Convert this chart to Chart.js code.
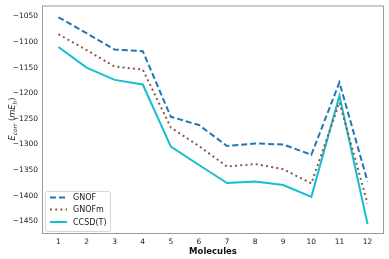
<!DOCTYPE html>
<html>
<head>
<meta charset="utf-8">
<script src="https://cdn.jsdelivr.net/npm/chart.js@4.4.1/dist/chart.umd.min.js"></script>
<style>
html,body{margin:0;padding:0;background:#fff;}
#wrap{width:389px;height:259px;position:relative;}
</style>
</head>
<body>
<div id="wrap"><canvas id="c" width="389" height="259"></canvas></div>
<script>
const molecules = [1,2,3,4,5,6,7,8,9,10,11,12];
const gnof  = [-1052,-1083,-1115,-1118,-1246,-1262,-1303,-1298,-1300,-1320,-1179,-1372];
const gnofm = [-1085,-1116,-1148,-1154,-1267,-1303,-1343,-1338,-1348,-1376,-1218,-1415];
const ccsdt = [-1110,-1150,-1174,-1183,-1304,-1340,-1375,-1372,-1379,-1402,-1205,-1455];
const yTicks = [-1450,-1400,-1350,-1300,-1250,-1200,-1150,-1100,-1050];
const seriesNames = ['GNOF','GNOFm','CCSD(T)'];

const FONT = 'DejaVu Sans';
const toPts = arr => arr.map((v,i)=>({x:molecules[i], y:v}));

const legendPlugin = {
  id:'innerLegend',
  afterDraw(chart){
    const ctx = chart.ctx;
    const x0 = 45.5, y0 = 191.5, w = 65, h = 40;
    ctx.save();
    ctx.beginPath();
    const r = 2;
    ctx.moveTo(x0+r,y0);ctx.lineTo(x0+w-r,y0);ctx.quadraticCurveTo(x0+w,y0,x0+w,y0+r);
    ctx.lineTo(x0+w,y0+h-r);ctx.quadraticCurveTo(x0+w,y0+h,x0+w-r,y0+h);
    ctx.lineTo(x0+r,y0+h);ctx.quadraticCurveTo(x0,y0+h,x0,y0+h-r);
    ctx.lineTo(x0,y0+r);ctx.quadraticCurveTo(x0,y0,x0+r,y0);
    ctx.closePath();
    ctx.fillStyle='rgba(255,255,255,0.8)';ctx.fill();
    ctx.strokeStyle='#d6d6d6';ctx.lineWidth=1;ctx.stroke();
    const ys=[197.5,209.5,222];
    chart.data.datasets.forEach((ds,i)=>{
      ctx.beginPath();
      ctx.setLineDash(ds.borderDash||[]);
      ctx.strokeStyle=ds.borderColor;ctx.lineWidth=ds.borderWidth;
      ctx.moveTo(50,ys[i]);ctx.lineTo(67,ys[i]);ctx.stroke();
      ctx.setLineDash([]);
      ctx.fillStyle='#222';ctx.font='8px "'+FONT+'"';
      ctx.textBaseline='middle';ctx.textAlign='left';
      ctx.fillText(ds.label,73,ys[i]+0.5);
    });
    ctx.restore();
  }
};

const yTitlePlugin = {
  id:'yTitle',
  afterDraw(chart){
    const ctx=chart.ctx;
    ctx.save();
    ctx.translate(12,119);
    ctx.rotate(-Math.PI/2);
    ctx.fillStyle='#222';
    ctx.textBaseline='alphabetic';
    const parts=[
      {t:'E',f:'italic 8.3px "'+FONT+'"',dy:0},
      {t:'corr',f:'italic 5.8px "'+FONT+'"',dy:1.9},
      {t:' (',f:'8.3px "'+FONT+'"',dy:0},
      {t:'mE',f:'italic 8.3px "'+FONT+'"',dy:0},
      {t:'h',f:'italic 5.8px "'+FONT+'"',dy:1.9},
      {t:')',f:'8.3px "'+FONT+'"',dy:0}
    ];
    let total=0;
    parts.forEach(p=>{ctx.font=p.f;p.w=ctx.measureText(p.t).width;total+=p.w;});
    let x=-total/2;
    parts.forEach(p=>{ctx.font=p.f;ctx.fillText(p.t,x,2.8+p.dy);x+=p.w;});
    ctx.restore();
  }
};

const frame = {
  id:'frame',
  afterDraw(chart){
    const a=chart.chartArea, ctx=chart.ctx;
    ctx.save();ctx.strokeStyle='#9a9a9a';ctx.lineWidth=1;
    ctx.strokeRect(a.left-0.5,a.top-0.5,a.right-a.left+1,a.bottom-a.top+1);
    ctx.restore();
  }
};

new Chart(document.getElementById('c'),{
  type:'line',
  data:{datasets:[
    {label:seriesNames[0],data:toPts(gnof),borderColor:'#1f77b4',borderWidth:2,borderDash:[6,3],pointRadius:0,fill:false,tension:0},
    {label:seriesNames[1],data:toPts(gnofm),borderColor:'#8c564b',borderWidth:2,borderDash:[2,3.2],pointRadius:0,fill:false,tension:0},
    {label:seriesNames[2],data:toPts(ccsdt),borderColor:'#17becf',borderWidth:2,pointRadius:0,fill:false,tension:0}
  ]},
  options:{
    responsive:false,animation:false,
    layout:{padding:{left:0,right:6,top:4,bottom:0}},
    plugins:{legend:{display:false},tooltip:{enabled:false}},
    scales:{
      x:{type:'linear',min:0.45,max:12.55,
        afterBuildTicks(s){s.ticks=molecules.map(v=>({value:v}));},
        grid:{display:false,drawTicks:true,tickLength:3,tickColor:'#444'},
        border:{display:false},
        ticks:{font:{family:FONT,size:7.5},color:'#222',padding:2,maxRotation:0,callback:v=>String(v)},
        title:{display:true,text:'Molecules',font:{family:FONT,size:8.5,weight:'bold'},color:'#111',padding:{top:0,bottom:2}},
        afterFit(s){s.height=26;}
      },
      y:{type:'linear',min:-1472.5,max:-1031,
        afterBuildTicks(s){s.ticks=yTicks.map(v=>({value:v}));},
        grid:{display:false,drawTicks:true,tickLength:3,tickColor:'#444'},
        border:{display:false},
        ticks:{font:{family:FONT,size:7.5},color:'#222',padding:2,callback:v=>'\u2212'+Math.abs(v)},
        afterFit(s){s.width=43;}
      }
    }
  },
  plugins:[frame,legendPlugin,yTitlePlugin]
});
</script>
</body>
</html>
